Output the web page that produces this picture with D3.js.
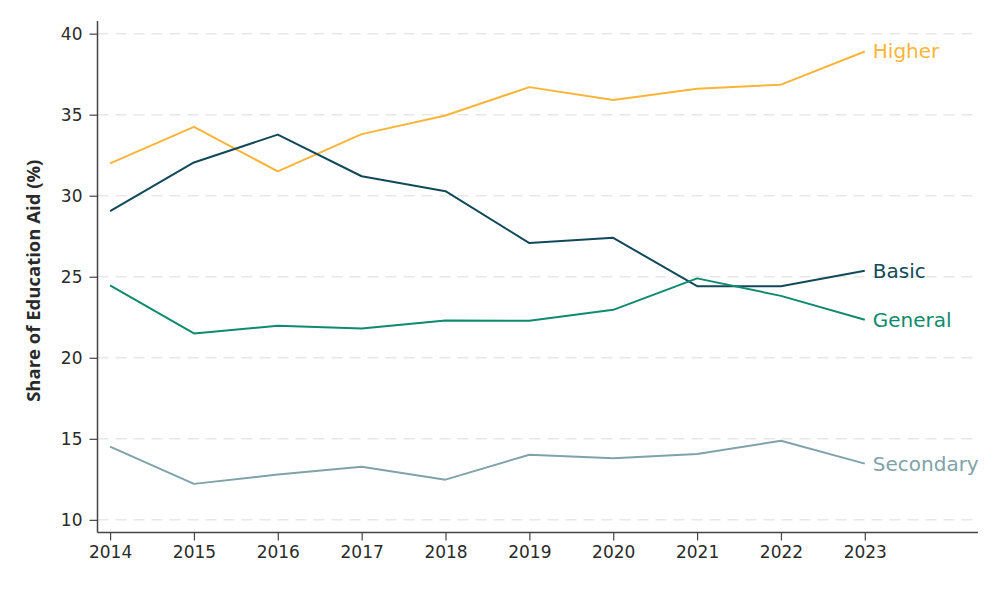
<!DOCTYPE html>
<html>
<head>
<meta charset="utf-8">
<script src="https://cdn.jsdelivr.net/npm/d3@7"></script>
<style>
  html, body { margin: 0; padding: 0; background: #fff; }
  svg { display: block; font-family: "DejaVu Sans", sans-serif; }
</style>
</head>
<body>
<svg id="chart" width="1000" height="600"></svg>
<script>
const years = [2014, 2015, 2016, 2017, 2018, 2019, 2020, 2021, 2022, 2023];
const higher    = [32.0, 34.25, 31.5, 33.8, 34.95, 36.7, 35.9, 36.6, 36.85, 38.9];
const basic     = [29.05, 32.05, 33.77, 31.2, 30.28, 27.08, 27.4, 24.42, 24.42, 25.37];
const general   = [24.47, 21.5, 21.97, 21.8, 22.3, 22.28, 22.96, 24.9, 23.82, 22.35];
const secondary = [14.52, 12.22, 12.8, 13.27, 12.48, 14.02, 13.8, 14.07, 14.88, 13.47];
const yTicks = [10, 15, 20, 25, 30, 35, 40];
const seriesNames = ["Higher", "Basic", "General", "Secondary"];
const seriesColors = ["#FBB43A", "#12495A", "#0F8A6E", "#7FA3A9"];
const seriesValues = [higher, basic, general, secondary];

const FONT = "'DejaVu Sans', sans-serif";
const TITLE_FONT = "'Open Sans', 'Noto Sans', sans-serif";
const svg = d3.select("#chart");
const mLeft = 97.5, mRight = 978, mTop = 21, mBottom = 532.5;

const x = d3.scaleLinear().domain([2013.85, 2024.35]).range([mLeft, mRight]);
const y = d3.scaleLinear().domain([9.22, 40.78]).range([mBottom, mTop]);

// gridlines
svg.append("g").selectAll("line").data(yTicks).join("line")
  .attr("x1", mLeft).attr("x2", 973)
  .attr("y1", d => y(d)).attr("y2", d => y(d))
  .attr("stroke", "#e8e8e8").attr("stroke-width", 1.5)
  .attr("stroke-dasharray", "11,7");

// axes
const yAxis = d3.axisLeft(y).tickValues(yTicks).tickSize(8).tickPadding(7).tickSizeOuter(0);
const gy = svg.append("g").attr("transform", `translate(${mLeft},0)`).call(yAxis);
const xAxis = d3.axisBottom(x).tickValues(years).tickFormat(d3.format("d")).tickSize(8).tickPadding(5).tickSizeOuter(0);
const gx = svg.append("g").attr("transform", `translate(0,${mBottom})`).call(xAxis);

[gx, gy].forEach(g => {
  g.select(".domain").attr("stroke", "#444").attr("stroke-width", 1.5);
  g.selectAll(".tick line").attr("stroke", "#444").attr("stroke-width", 1.2);
  g.selectAll(".tick text").attr("fill", "#2a2a2a").style("font-size", "17px")
    .style("font-family", FONT);
});
gx.select(".domain").attr("d", `M${mLeft},0H${mRight}`);
gy.select(".domain").attr("d", `M0,${mTop}V${mBottom}`);

// axis title
svg.append("text")
  .attr("transform", `translate(40,${(mTop + mBottom) / 2 + 4}) rotate(-90)`)
  .attr("text-anchor", "middle")
  .attr("fill", "#2a2a2a")
  .style("font-family", TITLE_FONT)
  .style("font-size", "18.5px").style("font-weight", "bold")
  .text("Share of Education Aid (%)");

// lines
const line = d3.line().x((d, i) => x(years[i])).y(d => y(d));
seriesValues.forEach((vals, k) => {
  svg.append("path").datum(vals)
    .attr("fill", "none")
    .attr("stroke", seriesColors[k])
    .attr("stroke-width", 2)
    .attr("stroke-linejoin", "round")
    .attr("d", line);
  svg.append("text")
    .attr("x", x(years[years.length - 1]) + 8)
    .attr("y", y(vals[vals.length - 1]))
    .attr("dy", "0.35em")
    .attr("fill", seriesColors[k])
    .style("font-family", FONT)
    .style("font-size", "20px")
    .text(seriesNames[k]);
});
</script>
</body>
</html>
